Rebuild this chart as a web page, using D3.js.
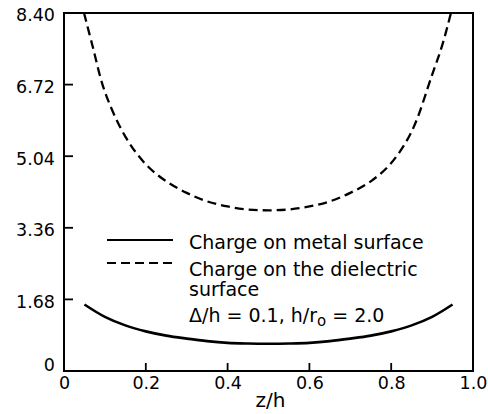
<!DOCTYPE html>
<html>
<head>
<meta charset="utf-8">
<script src="https://cdn.jsdelivr.net/npm/d3@7"></script>
<style>
  html, body { margin: 0; padding: 0; background: #fff; }
  svg { display: block; font-family: "DejaVu Sans", sans-serif; }
</style>
</head>
<body>
<svg id="chart" width="488" height="414"></svg>
<script>
// ---- data ----
const zMetal = [0.05, 0.1, 0.15, 0.2, 0.25, 0.3, 0.35, 0.4, 0.45, 0.5, 0.55, 0.6, 0.65, 0.7, 0.75, 0.8, 0.85, 0.9, 0.95];
const metalCharge = [1.56, 1.27, 1.07, 0.93, 0.83, 0.76, 0.70, 0.66, 0.645, 0.64, 0.645, 0.66, 0.70, 0.76, 0.83, 0.93, 1.07, 1.27, 1.56];
const zDielectric = [0.049, 0.07, 0.1, 0.15, 0.2, 0.25, 0.3, 0.35, 0.4, 0.45, 0.5, 0.55, 0.6, 0.65, 0.7, 0.75, 0.8, 0.85, 0.9, 0.925, 0.946];
const dielectricCharge = [8.40, 7.62, 6.55, 5.50, 4.85, 4.45, 4.18, 3.98, 3.86, 3.79, 3.77, 3.79, 3.86, 3.98, 4.18, 4.45, 4.88, 5.62, 6.95, 7.65, 8.40];
const xTicks = [0, 0.2, 0.4, 0.6, 0.8, 1.0];
const xTickLabels = ["0", "0.2", "0.4", "0.6", "0.8", "1.0"];
const yTicks = [0, 1.68, 3.36, 5.04, 6.72, 8.40];
const yTickLabels = ["0", "1.68", "3.36", "5.04", "6.72", "8.40"];
const legendLabels = ["Charge on metal surface", "Charge on the dielectric", "surface"];
const xTitle = "z/h";

// ---- layout ----
const svg = d3.select("#chart");
const mLeft = 64, mRight = 473, mTop = 13, mBottom = 371;
const x = d3.scaleLinear().domain([0, 1]).range([mLeft, mRight]);
const y = d3.scaleLinear().domain([0, 8.4]).range([mBottom, mTop]);

// frame
svg.append("rect")
  .attr("x", mLeft).attr("y", mTop)
  .attr("width", mRight - mLeft).attr("height", mBottom - mTop)
  .attr("fill", "none").attr("stroke", "#000").attr("stroke-width", 2);

// x axis (labels via d3 axis)
const xAxis = d3.axisBottom(x)
  .tickValues(xTicks)
  .tickFormat((d, i) => xTickLabels[i])
  .tickSize(0).tickPadding(6);
const gx = svg.append("g").attr("transform", `translate(0,${mBottom})`).call(xAxis);
gx.select(".domain").remove();
gx.selectAll("text").attr("font-size", 17.5).attr("fill", "#000").attr("font-family", "DejaVu Sans, sans-serif");

// y axis
const yAxis = d3.axisLeft(y)
  .tickValues(yTicks)
  .tickFormat((d, i) => yTickLabels[i])
  .tickSize(0).tickPadding(9);
const gy = svg.append("g").attr("transform", `translate(${mLeft},0)`).call(yAxis);
gy.select(".domain").remove();
gy.selectAll("text").attr("font-size", 17.5).attr("fill", "#000").attr("font-family", "DejaVu Sans, sans-serif")
  .attr("dy", (d, i) => i === 0 ? "-0.05em" : "0.45em");

// inward tick marks
svg.append("g").selectAll("line").data(xTicks.slice(1, -1)).join("line")
  .attr("x1", d => x(d)).attr("x2", d => x(d))
  .attr("y1", mBottom).attr("y2", mBottom - 8)
  .attr("stroke", "#000").attr("stroke-width", 1.8);
svg.append("g").selectAll("line").data(yTicks.slice(1, -1)).join("line")
  .attr("x1", mLeft).attr("x2", mLeft + 9)
  .attr("y1", d => y(d)).attr("y2", d => y(d))
  .attr("stroke", "#000").attr("stroke-width", 1.8);

// x title
svg.append("text")
  .attr("x", (x(0) + x(1)) / 2 + 2).attr("y", 407)
  .attr("text-anchor", "middle").attr("font-size", 20).attr("fill", "#000")
  .text(xTitle);

// curves
const line = d3.line().x(d => x(d[0])).y(d => y(d[1])).curve(d3.curveCatmullRom.alpha(0.5));
svg.append("path")
  .datum(zMetal.map((z, i) => [z, metalCharge[i]]))
  .attr("d", line).attr("fill", "none").attr("stroke", "#000").attr("stroke-width", 2.6);
svg.append("path")
  .datum(zDielectric.map((z, i) => [z, dielectricCharge[i]]))
  .attr("d", line).attr("fill", "none").attr("stroke", "#000").attr("stroke-width", 2.3)
  .attr("stroke-dasharray", "9,5");

// legend
const lg = svg.append("g");
lg.append("line").attr("x1", 107).attr("x2", 173).attr("y1", 240).attr("y2", 240)
  .attr("stroke", "#000").attr("stroke-width", 2);
lg.append("line").attr("x1", 107).attr("x2", 173).attr("y1", 263).attr("y2", 263)
  .attr("stroke", "#000").attr("stroke-width", 2).attr("stroke-dasharray", "9,5");
const ly = [249, 275.5, 296];
legendLabels.forEach((t, i) => {
  lg.append("text").attr("x", 189).attr("y", ly[i]).attr("font-size", 19).attr("fill", "#000").text(t);
});
const pt = lg.append("text").attr("x", 189).attr("y", 322).attr("font-size", 19).attr("fill", "#000");
pt.append("tspan").text("\u0394/h = 0.1, h/r");
pt.append("tspan").attr("dy", 4).attr("font-size", 15).text("o");
pt.append("tspan").attr("dy", -4).text(" = 2.0");
</script>
</body>
</html>
